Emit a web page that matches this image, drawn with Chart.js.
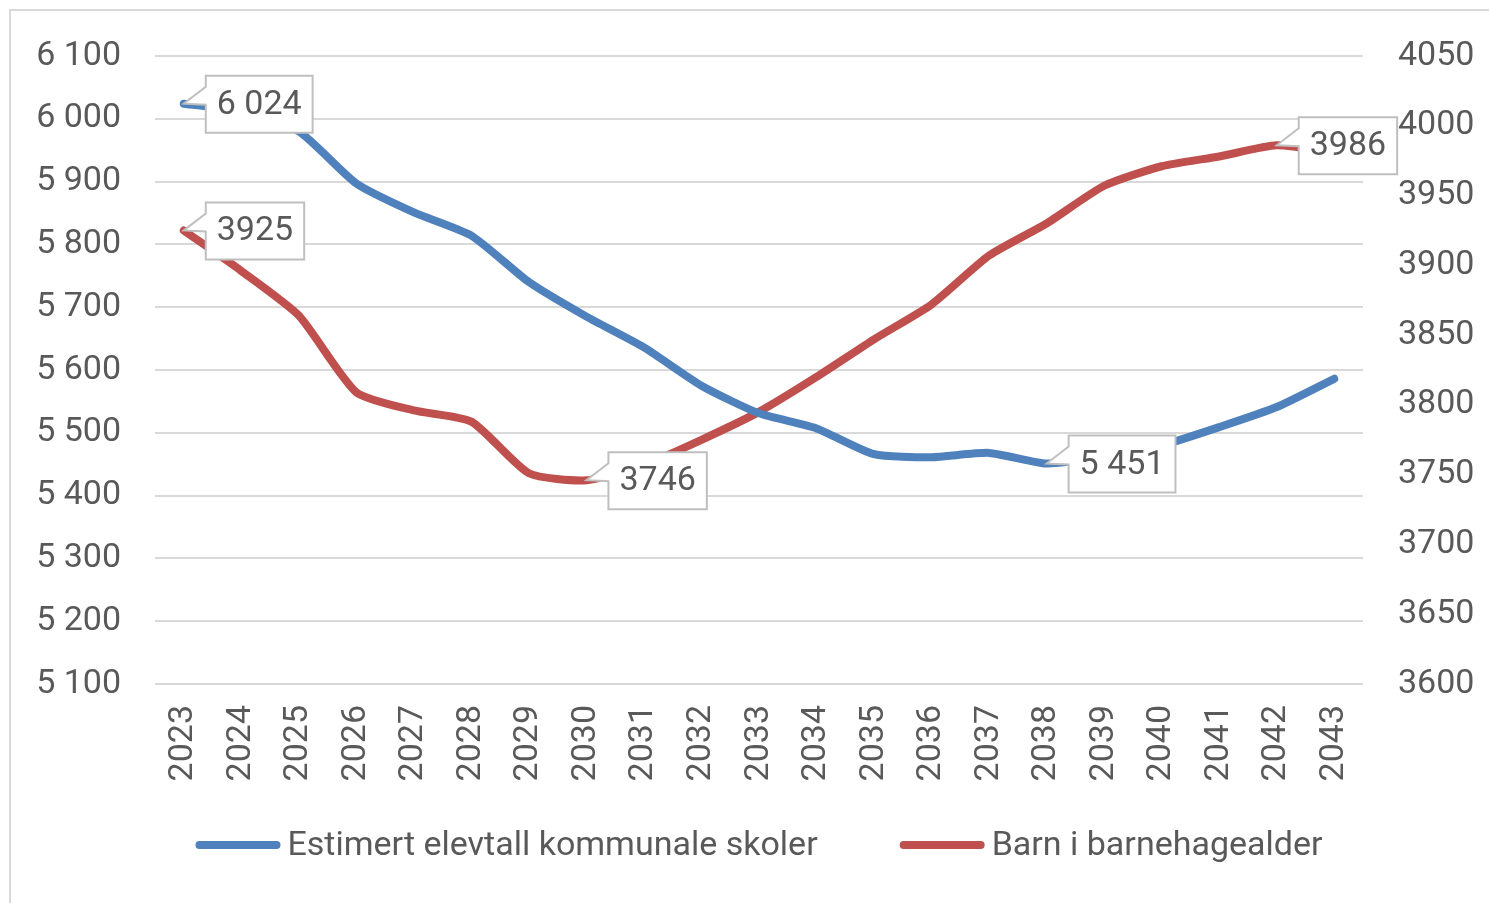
<!DOCTYPE html>
<html>
<head>
<meta charset="utf-8">
<script src="https://cdn.jsdelivr.net/npm/chart.js@4.4.1/dist/chart.umd.min.js"></script>
<style>
  html, body { margin: 0; padding: 0; background: #fff; }
  #frame { position: absolute; left: 9px; top: 9px; width: 1500px; height: 920px; border: 2px solid #d9d9d9; }
  #wrap { position: absolute; left: 0; top: 0; width: 1489px; height: 903px; }
</style>
</head>
<body>
<div id="frame"></div>
<div id="wrap"><canvas id="chart" width="1489" height="903"></canvas></div>
<script>
// Data
const years = ['2023', '2024', '2025', '2026', '2027', '2028', '2029', '2030', '2031', '2032', '2033',
               '2034', '2035', '2036', '2037', '2038', '2039', '2040', '2041', '2042', '2043'];
const elevtall = [6024, 6012, 5980, 5897, 5851, 5814, 5740, 5685, 5636, 5575, 5531,
                  5507, 5466, 5461, 5468, 5451, 5462, 5480, 5509, 5541, 5586];
const barnehage = [3925, 3896, 3864, 3809, 3796, 3788, 3751, 3746, 3757, 3775, 3795,
                   3820, 3847, 3872, 3907, 3930, 3957, 3971, 3978, 3986, 3981];
const leftTicks = [5100, 6100, 100];
const rightTicks = [3600, 4050, 50];
// which points get a callout label: [datasetIndex, dataIndex]
const calloutPoints = [[0, 0], [0, 15], [1, 0], [1, 7], [1, 19]];

const textColor = '#595959';
const fontFamily = 'Roboto, "Noto Sans", sans-serif';
const fontSize = 34;

// Excel style "6 024" for the left series, plain for the right one
function fmt(v, dsIndex) {
    if (dsIndex === 0) return String(v).replace(/\B(?=(\d{3})+(?!\d))/g, ' ');
    return String(v);
}

// Callout boxes like the Excel data labels
const calloutPlugin = {
    id: 'callouts',
    afterDatasetsDraw(chart) {
        const ctx = chart.ctx;
        ctx.save();
        ctx.font = fontSize + 'px ' + fontFamily;
        calloutPoints.forEach(([d, i]) => {
            const pt = chart.getDatasetMeta(d).data[i];
            const value = chart.data.datasets[d].data[i];
            const text = fmt(value, d);
            const w = ctx.measureText(text).width + 22;
            const h = 57;
            const left = pt.x + 22;
            const top = pt.y - 28;

            ctx.beginPath();
            ctx.moveTo(left, top);
            ctx.lineTo(left + w, top);
            ctx.lineTo(left + w, top + h);
            ctx.lineTo(left, top + h);
            ctx.lineTo(left, pt.y + 1);
            ctx.lineTo(pt.x, pt.y);
            ctx.lineTo(left, top + 11);
            ctx.closePath();
            ctx.fillStyle = '#ffffff';
            ctx.fill();
            ctx.lineWidth = 2;
            ctx.strokeStyle = '#bfbfbf';
            ctx.stroke();

            ctx.fillStyle = textColor;
            ctx.textAlign = 'left';
            ctx.textBaseline = 'middle';
            ctx.fillText(text, left + 11, top + h / 2 + 1);
        });
        ctx.restore();
    }
};

// Legend drawn under the axis, Excel style line samples
const legendPlugin = {
    id: 'bottomLegend',
    afterDraw(chart) {
        const ctx = chart.ctx;
        ctx.save();
        ctx.font = fontSize + 'px ' + fontFamily;
        const sample = 85, gapText = 7, gapItems = 82;
        const items = chart.data.datasets.map(ds => ({
            text: ds.label, color: ds.borderColor, w: ctx.measureText(ds.label).width
        }));
        let total = 0;
        items.forEach((it, k) => { total += sample + gapText + it.w + (k ? gapItems : 0); });
        let x = 759 - total / 2;
        const y = 845;
        items.forEach((it, k) => {
            if (k) x += gapItems;
            ctx.beginPath();
            ctx.moveTo(x + 4, y);
            ctx.lineTo(x + sample - 4, y);
            ctx.strokeStyle = it.color;
            ctx.lineWidth = 8;
            ctx.lineCap = 'round';
            ctx.stroke();
            x += sample + gapText;
            ctx.fillStyle = textColor;
            ctx.textAlign = 'left';
            ctx.textBaseline = 'middle';
            ctx.fillText(it.text, x, y + 1);
            x += it.w;
        });
        ctx.restore();
    }
};

const ctx = document.getElementById('chart').getContext('2d');
const chart = new Chart(ctx, {
    type: 'line',
    data: {
        labels: years,
        datasets: [{
            label: 'Estimert elevtall kommunale skoler',
            data: elevtall,
            borderColor: '#4f81bd',
            backgroundColor: '#4f81bd',
            borderWidth: 8,
            borderCapStyle: 'round',
            pointRadius: 0,
            tension: 0.2,
            yAxisID: 'y'
        }, {
            label: 'Barn i barnehagealder',
            data: barnehage,
            borderColor: '#c0504d',
            backgroundColor: '#c0504d',
            borderWidth: 8,
            borderCapStyle: 'round',
            pointRadius: 0,
            tension: 0.2,
            yAxisID: 'y1'
        }]
    },
    options: {
        responsive: false,
        animation: false,
        layout: {
            padding: { top: 56, bottom: 0, left: 0, right: 0 }
        },
        plugins: {
            legend: { display: false },
            tooltip: { enabled: false }
        },
        scales: {
            x: {
                offset: true,
                grid: { display: false },
                border: { display: false },
                ticks: {
                    color: textColor,
                    minRotation: 90,
                    maxRotation: 90,
                    padding: 13,
                    font: { family: fontFamily, size: fontSize }
                },
                afterFit(scale) { scale.height = 219; }
            },
            y: {
                position: 'left',
                min: leftTicks[0],
                max: leftTicks[1],
                grid: { color: '#d9d9d9', lineWidth: 2, drawTicks: false },
                border: { display: false },
                ticks: {
                    stepSize: leftTicks[2],
                    color: textColor,
                    padding: 34,
                    font: { family: fontFamily, size: fontSize },
                    callback: (v) => fmt(v, 0)
                },
                afterFit(scale) { scale.width = 155; }
            },
            y1: {
                position: 'right',
                min: rightTicks[0],
                max: rightTicks[1],
                grid: { display: false, drawTicks: false },
                border: { display: false },
                ticks: {
                    stepSize: rightTicks[2],
                    color: textColor,
                    padding: 35,
                    font: { family: fontFamily, size: fontSize },
                    callback: (v) => String(v)
                },
                afterFit(scale) { scale.width = 126; }
            }
        }
    },
    plugins: [calloutPlugin, legendPlugin]
});
</script>
</body>
</html>
